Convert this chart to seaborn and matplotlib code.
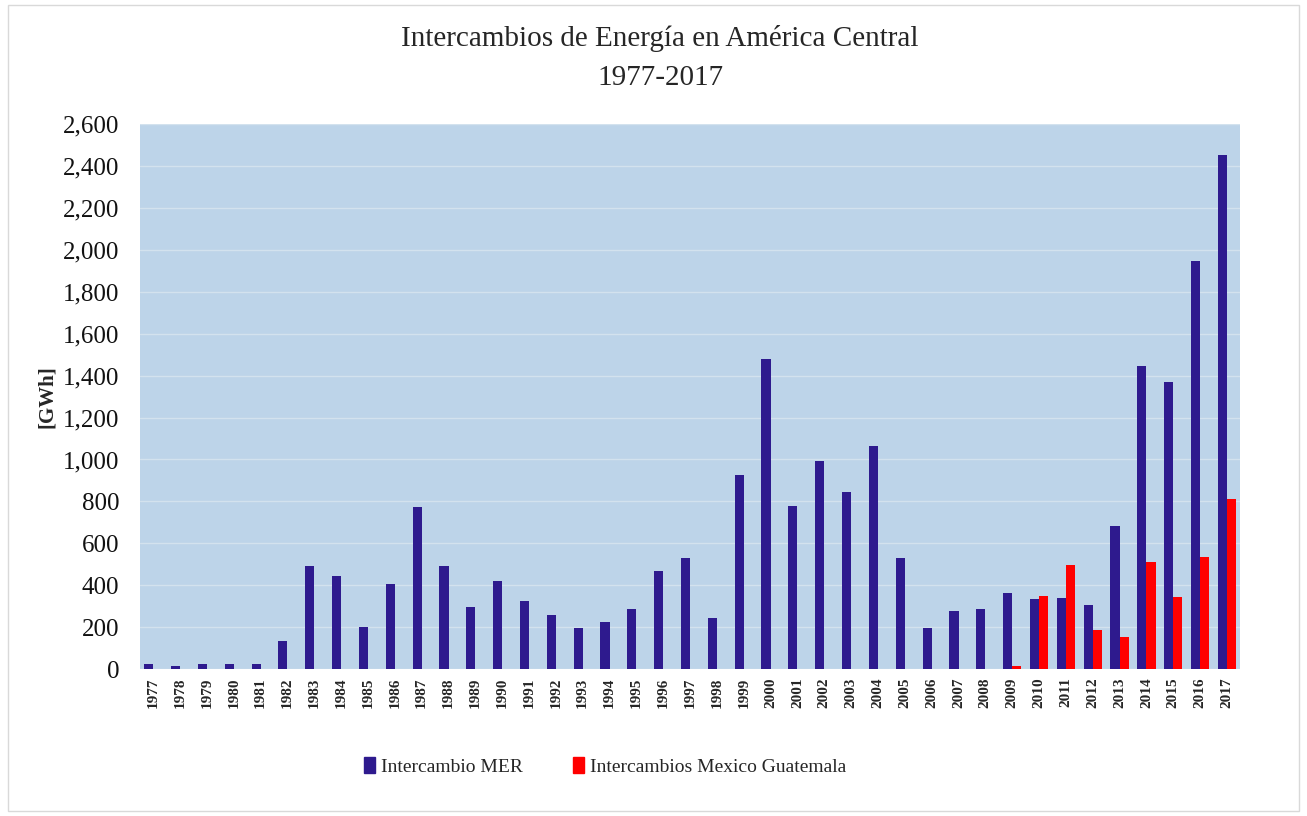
import matplotlib
matplotlib.use("Agg")
import matplotlib.pyplot as plt
import matplotlib.patches as mpatches
import matplotlib.ticker as mticker
import numpy as np
import pandas as pd
import seaborn as sns

years = list(range(1977, 2018))
mer = [25, 15, 25, 25, 25, 135, 490, 445, 200, 405,
       775, 490, 295, 420, 325, 260, 195, 225, 285, 470,
       530, 245, 925, 1480, 780, 995, 845, 1065, 530, 195,
       275, 285, 365, 335, 340, 305, 685, 1445, 1370, 1945,
       2450]
mex_gua = [0] * 32 + [15, 350, 495, 185, 155, 510, 345, 535, 810]

series_names = ["Intercambio MER", "Intercambios Mexico Guatemala"]
colors = ["#2E1A8E", "#FF0000"]

df = pd.DataFrame({
    "year": [str(y) for y in years] * 2,
    "value": mer + mex_gua,
    "serie": [series_names[0]] * len(years) + [series_names[1]] * len(years),
})

sns.set_theme(style="white")
plt.rcParams["font.family"] = ["Liberation Serif", "DejaVu Serif"]

fig = plt.figure(figsize=(13.07, 8.16), dpi=100)
ax = fig.add_axes([0.107, 0.18, 0.842, 0.668])
ax.set_facecolor("#BDD4E9")

sns.barplot(data=df, x="year", y="value", hue="serie", palette=colors,
            width=0.68, dodge=True, saturation=1, linewidth=0,
            edgecolor="none", ax=ax, legend=False)

ax.set_ylim(0, 2600)
ax.set_xlim(-0.5, len(years) - 0.5)
ax.yaxis.set_major_locator(mticker.MultipleLocator(200))
ax.yaxis.set_major_formatter(mticker.FuncFormatter(lambda v, p: f"{int(v):,}"))
ax.grid(axis="y", color="#D3E2EE", linewidth=1)
ax.set_axisbelow(True)
for s in ax.spines.values():
    s.set_visible(False)

ax.tick_params(axis="y", labelsize=18, length=0, pad=15, labelcolor="#111111")
ax.tick_params(axis="x", labelsize=11, length=0, pad=6, rotation=90)
for lbl in ax.get_xticklabels():
    lbl.set_fontweight("bold")
ax.set_xlabel("")
ax.set_ylabel("[GWh]", fontsize=15, fontweight="bold", labelpad=4)

fig.text(0.505, 0.953, "Intercambios de Energía en América Central",
         ha="center", va="center", fontsize=21)
fig.text(0.505, 0.905, "1977-2017", ha="center", va="center", fontsize=21)

handles = [mpatches.Patch(color=c, label=n) for c, n in zip(colors, series_names)]
fig.legend(handles=handles, loc="center", bbox_to_anchor=(0.463, 0.061),
           ncol=2, frameon=False, fontsize=14, handlelength=0.55,
           handleheight=0.9, handletextpad=0.3, columnspacing=2.6)

fig.patches.append(mpatches.Rectangle((0.006, 0.006), 0.988, 0.988,
                                      transform=fig.transFigure, fill=False,
                                      edgecolor="#D9D9D9", linewidth=1))

fig.savefig("out.png", dpi=100, facecolor="white")
